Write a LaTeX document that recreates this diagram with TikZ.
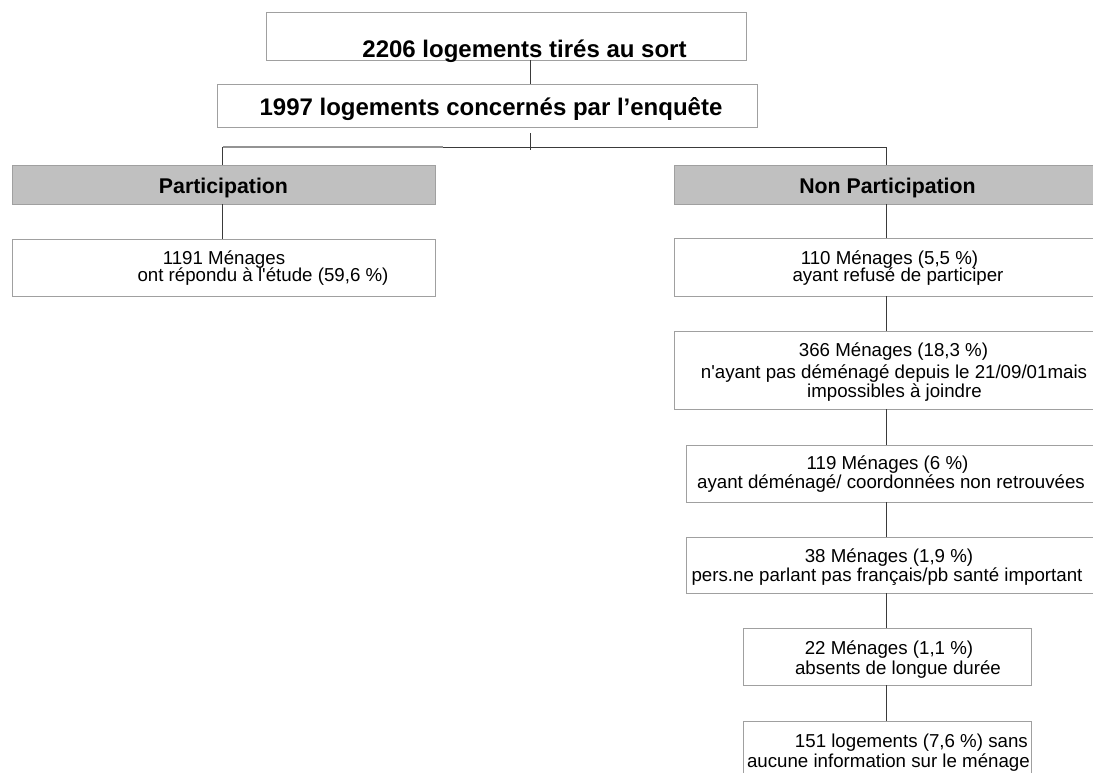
\documentclass[tikz,border=0pt]{standalone}
\usepackage{fontspec}
\setmainfont{Liberation Sans}[Ligatures=TeXOff]
\definecolor{boxline}{HTML}{A0A0A0}
\definecolor{conncol}{HTML}{3A3A3A}
\definecolor{hdrfill}{HTML}{C0C0C0}
\begin{document}
\begin{tikzpicture}[x=1pt,y=-1pt,
  box/.style={draw=boxline,line width=1pt,inner sep=0pt,outer sep=0pt},
  hdr/.style={box,fill=hdrfill},
  txt/.style={inner sep=0pt,anchor=base,font=\fontsize{18.7}{20}\selectfont},
  btxt/.style={inner sep=0pt,anchor=base,font=\fontsize{24}{28}\selectfont\bfseries},
  htxt/.style={inner sep=0pt,anchor=base,font=\fontsize{21.3}{24}\selectfont\bfseries},
  conn/.style={draw=conncol,line width=1pt}]
\useasboundingbox (0,0) rectangle (1093,772);
\fill[white] (0,0) rectangle (1093,772);
\begin{scope}
\clip (0,0) rectangle (1093,772);
% boxes
\node[box,minimum width=480pt,minimum height=48pt] (b1) at (506,36) {};
\node[box,minimum width=540pt,minimum height=43pt] (b2) at (487,105.5) {};
\node[hdr,minimum width=423pt,minimum height=39pt] (part) at (223.5,184.5) {};
\node[hdr,minimum width=436pt,minimum height=39pt] (nonpart) at (892,184.5) {};
\node[box,minimum width=423pt,minimum height=57pt] (p1) at (223.5,267.5) {};
\node[box,minimum width=436pt,minimum height=58pt] (n1) at (892,267) {};
\node[box,minimum width=436pt,minimum height=78pt] (n2) at (892,370) {};
\node[box,minimum width=424pt,minimum height=57pt] (n3) at (898,473.5) {};
\node[box,minimum width=424pt,minimum height=56pt] (n4) at (898,565) {};
\node[box,minimum width=288pt,minimum height=57pt] (n5) at (887,656.5) {};
\node[box,minimum width=288pt,minimum height=79pt] (n6) at (887,760.5) {};
% texts
\node[btxt] (t1) at (524.5,57) {2206 logements tirés au sort};
\node[btxt] (t2) at (491,115) {1997 logements concernés par l’enquête};
\node[htxt] (tp) at (223.5,193) {Participation};
\node[htxt] (tnp) at (887.5,193) {Non Participation};
\node[txt] (p1a) at (224,264) {1191 Ménages};
\node[txt] (p1b) at (263,281) {ont répondu à l'étude (59,6 \%)};
\node[txt] (n1a) at (889.5,264) {110 Ménages (5,5 \%)};
\node[txt] (n1b) at (898,281) {ayant refusé de participer};
\node[txt] (n2a) at (893.5,356) {366 Ménages (18,3 \%)};
\node[txt] (n2b) at (894,378) {n'ayant pas déménagé depuis le 21/09/01mais};
\node[txt] (n2c) at (894.5,397) {impossibles à joindre};
\node[txt] (n3a) at (887.5,469) {119 Ménages (6 \%)};
\node[txt] (n3b) at (891,488) {ayant déménagé/ coordonnées non retrouvées};
\node[txt] (n4a) at (889,562) {38 Ménages (1,9 \%)};
\node[txt] (n4b) at (887,581) {pers.ne parlant pas français/pb santé important};
\node[txt] (n5a) at (889,654) {22 Ménages (1,1 \%)};
\node[txt] (n5b) at (898,674) {absents de longue durée};
\node[txt,anchor=base east] (n6a) at (1028,747) {151 logements (7,6 \%) sans};
\node[txt,anchor=base east] (n6b) at (1030,767) {aucune information sur le ménage};
% connector coordinates
\coordinate (cxl) at (222.5,147);
\coordinate (cxm) at (530,147);
\coordinate (cxr) at (886.5,147);
\coordinate (jtop) at (530,133);
\coordinate (jbot) at (530,150);
\coordinate (tick) at (443,147);
% connectors
\draw[conn] (b1.south -| cxm) -- (b2.north -| cxm);
\draw[conn] (jtop) -- (jbot);
\draw[draw=gray!85,line width=1.6pt] (cxl) -- (tick);
\draw[conn] (tick) -- (cxr);
\draw[conn] (cxl) -- (part.north -| cxl);
\draw[conn] (cxr) -- (nonpart.north -| cxr);
\draw[conn] (part.south -| cxl) -- (p1.north -| cxl);
\draw[conn] (nonpart.south -| cxr) -- (n1.north -| cxr);
\draw[conn] (n1.south -| cxr) -- (n2.north -| cxr);
\draw[conn] (n2.south -| cxr) -- (n3.north -| cxr);
\draw[conn] (n3.south -| cxr) -- (n4.north -| cxr);
\draw[conn] (n4.south -| cxr) -- (n5.north -| cxr);
\draw[conn] (n5.south -| cxr) -- (n6.north -| cxr);
\end{scope}
\end{tikzpicture}
\end{document}
